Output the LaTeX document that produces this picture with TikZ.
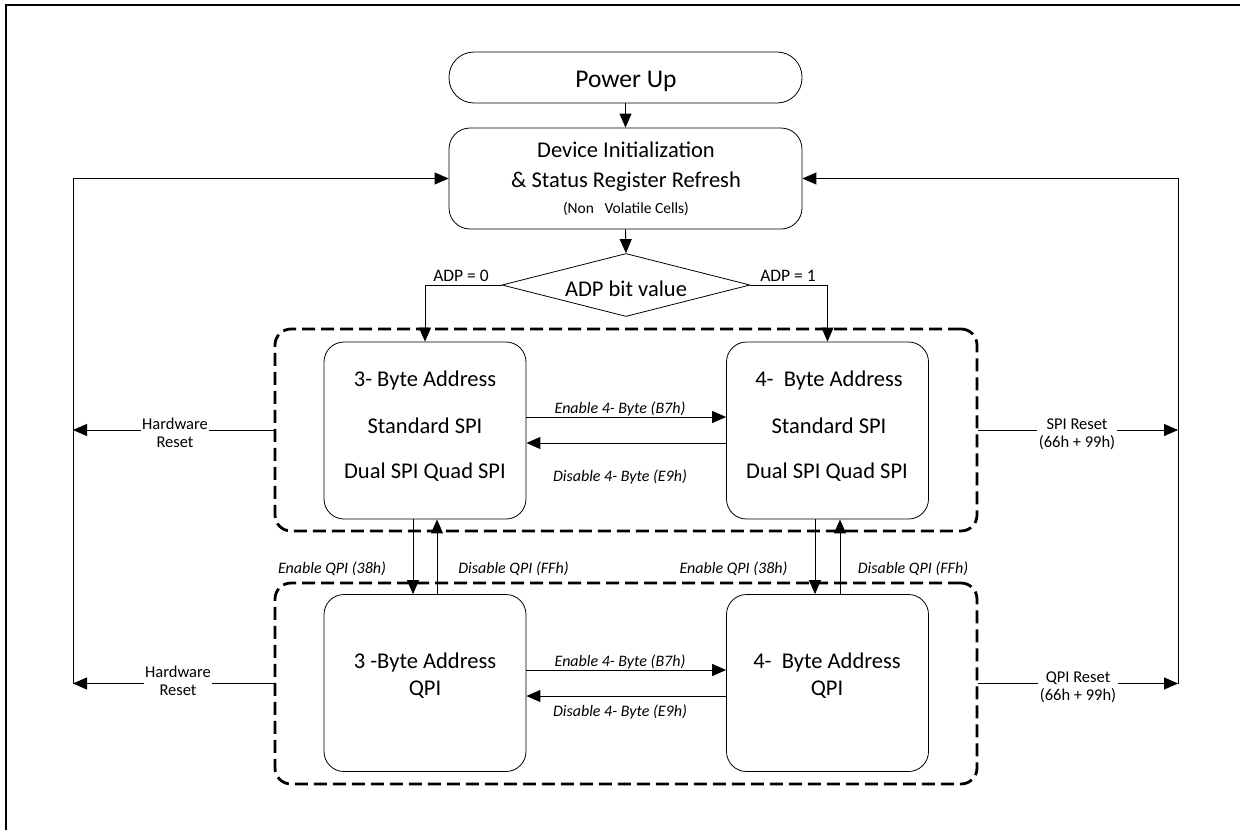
\documentclass[tikz,border=0pt]{standalone}
\usepackage{fontspec}
\setmainfont{Carlito}
\usetikzlibrary{arrows.meta,shapes.geometric,calc}
\begin{document}
\begin{tikzpicture}[x=1pt,y=-1pt,
  arr/.style={-{Triangle[length=14pt,width=12pt]}, line width=0.9pt},
  box/.style={draw, line width=0.8pt, rounded corners=20pt, minimum width=202pt, minimum height=177pt, inner sep=0pt},
  grp/.style={draw, line width=2.8pt, dash pattern=on 13pt off 6pt, rounded corners=16pt, inner sep=0pt, minimum width=702pt},
  big/.style={font=\fontsize{22.5}{26}\selectfont, anchor=base, inner sep=0pt},
  lab/.style={font=\fontsize{16.5}{18}\selectfont, align=center, fill=white, inner sep=1.5pt},
  ital/.style={font=\fontsize{16}{19}\selectfont\itshape, anchor=base, inner sep=0pt},
  adp/.style={font=\fontsize{17.5}{20}\selectfont, anchor=base, inner sep=0pt},
]
\clip (0,0) rectangle (1240,830);
\useasboundingbox (0,0) rectangle (1240,830);

% outer frame
\draw[line width=2pt] (6,840) -- (6,5) -- (1250,5);

% top boxes
\node[draw, line width=0.8pt, rounded corners=25pt, minimum width=353pt, minimum height=51pt, inner sep=0pt] (pu) at (625.5,77.5) {};
\node[font=\fontsize{25.5}{30}\selectfont, anchor=base, inner sep=0pt] (putxt) at (626,87) {Power Up};

\node[draw, line width=0.8pt, rounded corners=21pt, minimum width=353pt, minimum height=101pt, inner sep=0pt] (dev) at (625.5,178.5) {};
\node[big] (devt1) at (626,157) {Device Initialization};
\node[big] (devt2) at (626,187) {\& Status Register Refresh};
\node[font=\fontsize{15.5}{18}\selectfont, anchor=base, inner sep=0pt] (devt3) at (626,213) {(Non~~~Volatile Cells)};

\node[draw, line width=0.8pt, diamond, aspect=3.9, minimum width=248pt, minimum height=63pt, inner sep=0pt] (dia) at (626,285) {};
\node[big] (diat) at (626,296) {ADP bit value};
\node[adp] (adp0) at (461,281) {ADP = 0};
\node[adp] (adp1) at (788,281) {ADP = 1};

% containers
\node[grp, minimum height=202pt] (g1) at (626,430) {};
\node[grp, minimum height=201pt] (g2) at (626,683.5) {};

% state boxes
\node[box] (a3) at (425,430.5) {};
\node[box] (a4) at (827.5,430.5) {};
\node[box] (q3) at (425,683) {};
\node[box] (q4) at (827.5,683) {};

\node[big] (a3t1) at (425,386) {3- Byte Address};
\node[big] (a3t2) at (425,433) {Standard SPI};
\node[big] (a3t3) at (425,478) {Dual SPI Quad SPI};
\node[big] (a4t1) at (829,386) {4-~ Byte Address};
\node[big] (a4t2) at (829,433) {Standard SPI};
\node[big] (a4t3) at (827,478) {Dual SPI Quad SPI};
\node[big] (q3t1) at (425,668) {3 -Byte Address};
\node[big] (q3t2) at (425,695) {QPI};
\node[big] (q4t1) at (827,668) {4-~ Byte Address};
\node[big] (q4t2) at (827,695) {QPI};

% top flow
\draw[arr] (pu.south) -- (dev.north);
\draw[arr] (dev.south) -- (dia.north);
\draw[arr] (dia.west) -| (a3.north);
\draw[arr] (dia.east) -| (a4.north);

% 4-byte transitions
\draw[arr] ([yshift=13.5pt]a3.east) -- ([yshift=13.5pt]a4.west);
\draw[arr] ([yshift=-12.5pt]a4.west) -- ([yshift=-12.5pt]a3.east);
\node[ital] (e1) at (620,413) {Enable 4- Byte (B7h)};
\node[ital] (d1) at (620,481) {Disable 4- Byte (E9h)};
\draw[arr] ([yshift=13pt]q3.east) -- ([yshift=13pt]q4.west);
\draw[arr] ([yshift=-13pt]q4.west) -- ([yshift=-13pt]q3.east);
\node[ital] (e2) at (620,666) {Enable 4- Byte (B7h)};
\node[ital] (d2) at (620,716) {Disable 4- Byte (E9h)};

% QPI transitions
\draw[arr] ([xshift=-12pt]a3.south) -- ([xshift=-12pt]q3.north);
\draw[arr] ([xshift=12pt]q3.north) -- ([xshift=12pt]a3.south);
\draw[arr] ([xshift=-12.5pt]a4.south) -- ([xshift=-12.5pt]q4.north);
\draw[arr] ([xshift=12.5pt]q4.north) -- ([xshift=12.5pt]a4.south);
\node[ital] (eq1) at (332,573) {Enable QPI (38h)};
\node[ital] (dq1) at (513.5,573) {Disable QPI (FFh)};
\node[ital] (eq2) at (733.5,573) {Enable QPI (38h)};
\node[ital] (dq2) at (913,573) {Disable QPI (FFh)};

% reset loops
\coordinate (Lt) at (73,178.5);
\coordinate (Lb) at (73,683.5);
\coordinate (Lm) at (73,430);
\coordinate (Rt) at (1178,178.5);
\coordinate (Rb) at (1178,683.5);
\coordinate (Rm) at (1178,430);
\draw[arr] (Lb) -- (Lt) -- (dev.west);
\draw[arr] (Rb) -- (Rt) -- (dev.east);
\draw[arr] (g1.west) -- (Lm);
\draw[arr] (g2.west) -- (Lb);
\draw[arr] (g1.east) -- (Rm);
\draw[arr] (g2.east) -- (Rb);
\node[lab] (hw1) at (175,433) {Hardware\\Reset};
\node[lab] (hw2) at (178,681) {Hardware\\Reset};
\node[lab] (sr) at (1077,434) {SPI~Reset\\(66h + 99h)};
\node[lab] (qr) at (1078,687) {QPI Reset\\(66h + 99h)};
\end{tikzpicture}
\end{document}
